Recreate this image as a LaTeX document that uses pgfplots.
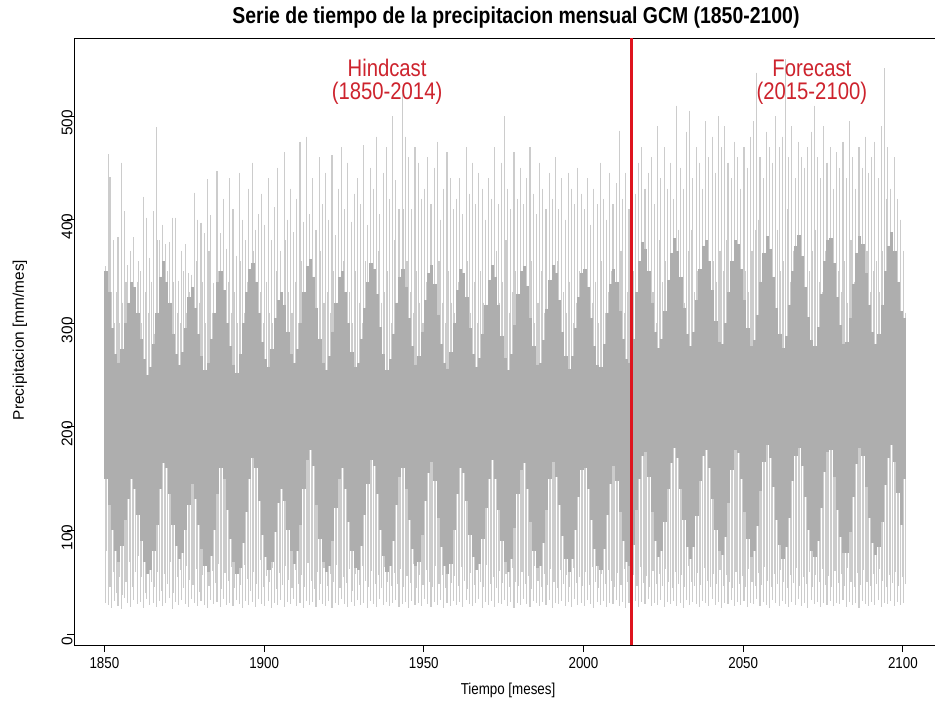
\documentclass[border=0pt]{standalone}
\usepackage{fontspec}
\setmainfont{Liberation Sans}
\newfontfamily\narrow[FakeStretch=0.845]{Liberation Sans}
\usepackage{pgfplots}
\usepackage{pgfplotstable}
\pgfplotsset{compat=1.18}

\definecolor{coregray}{RGB}{174,174,174}
\definecolor{linegray}{RGB}{204,204,204}
\definecolor{rline}{RGB}{222,20,30}
\definecolor{rtext}{RGB}{205,35,45}

% per year: two monthly spikes (lA-hA, lB-hB) and the dense band (cL-cH)
\pgfplotstableread{
yr lA hA lB hB cL cH
1850 30 355 80 300 150 350
1851 28 463 45 441 125 330
1852 25 330 60 380 100 295
1853 32 300 40 330 80 270
1854 27 383 55 300 70 262
1855 24 455 38 320 85 275
1856 35 408 50 340 110 300
1857 30 356 70 290 130 320
1858 26 370 45 330 150 340
1859 33 383 60 310 140 335
1860 29 340 75 360 115 310
1861 31 350 55 300 90 285
1862 25 422 40 330 70 265
1863 34 402 65 310 58 250
1864 28 363 50 340 62 258
1865 30 408 45 290 80 280
1866 26 489 60 380 105 310
1867 32 380 42 330 140 345
1868 27 395 58 300 165 360
1869 30 376 48 350 160 340
1870 35 378 70 320 135 320
1871 24 402 40 340 105 290
1872 31 402 55 310 85 270
1873 28 341 62 300 72 260
1874 33 370 44 350 78 272
1875 29 376 66 310 100 295
1876 26 348 52 330 125 325
1877 34 347 47 290 145 335
1878 30 426 63 360 130 315
1879 27 400 41 320 105 290
1880 32 397 57 340 82 268
1881 28 387 72 300 66 255
1882 25 439 46 370 60 262
1883 33 404 61 310 75 285
1884 29 339 49 300 100 310
1885 31 447 68 350 135 340
1886 26 387 43 320 160 350
1887 34 420 59 300 150 332
1888 28 372 51 340 120 300
1889 30 440 65 310 92 278
1890 27 410 44 330 70 260
1891 33 365 58 300 58 252
1892 29 445 47 360 64 270
1893 25 400 67 310 88 300
1894 32 380 53 340 118 330
1895 28 430 42 300 150 352
1896 31 455 60 370 170 358
1897 26 390 48 320 160 340
1898 34 405 71 330 128 310
1899 29 425 45 300 96 282
1900 27 395 56 340 74 265
1901 32 440 50 310 62 258
1902 25 380 64 300 70 275
1903 30 412 43 350 98 305
1904 28 450 59 320 126 322
1905 33 370 47 300 140 330
1906 26 465 66 380 128 318
1907 31 400 52 330 100 292
1908 29 430 44 310 80 270
1909 34 388 62 340 68 262
1910 27 420 48 300 80 275
1911 30 475 57 360 105 300
1912 25 398 45 320 140 330
1913 32 480 69 350 168 355
1914 28 405 51 310 178 362
1915 31 440 43 340 162 345
1916 26 390 60 300 125 315
1917 33 460 48 370 92 285
1918 29 415 64 320 70 262
1919 27 445 46 330 60 255
1920 32 400 58 310 66 268
1921 25 462 50 350 90 292
1922 30 385 67 300 122 320
1923 28 430 44 340 150 345
1924 34 470 55 360 160 350
1925 29 410 49 310 140 330
1926 26 455 63 330 108 300
1927 31 398 42 300 80 272
1928 27 425 58 350 64 258
1929 33 440 47 320 62 262
1930 28 415 66 300 85 285
1931 30 472 51 360 115 315
1932 25 395 45 310 145 340
1933 32 450 61 340 168 358
1934 29 430 48 300 162 352
1935 26 480 57 370 135 328
1936 34 405 44 320 100 296
1937 28 445 65 330 75 270
1938 31 470 50 350 60 255
1939 27 420 46 300 66 265
1940 30 500 59 380 90 290
1941 33 438 48 320 125 320
1942 26 410 63 340 152 345
1943 29 525 45 410 160 352
1944 31 480 56 360 140 335
1945 25 460 49 330 110 305
1946 32 410 68 310 82 278
1947 28 470 44 350 66 260
1948 30 455 57 320 70 268
1949 27 420 47 300 96 292
1950 34 430 62 340 128 322
1951 29 460 50 310 155 348
1952 26 415 45 330 166 356
1953 31 450 66 300 148 338
1954 28 475 48 360 112 308
1955 33 400 57 320 84 280
1956 25 430 44 300 66 262
1957 30 465 63 350 58 256
1958 27 440 49 320 68 272
1959 32 410 56 310 100 300
1960 28 420 46 340 135 332
1961 31 440 65 300 160 352
1962 26 405 51 330 155 348
1963 33 470 43 360 128 325
1964 29 425 59 310 96 295
1965 27 455 47 340 74 270
1966 30 415 62 300 62 258
1967 34 445 50 350 68 266
1968 25 430 45 320 92 290
1969 31 400 67 310 122 318
1970 28 440 48 330 150 342
1971 32 420 55 300 168 356
1972 26 470 44 370 150 345
1973 30 415 61 320 120 318
1974 29 455 49 340 90 288
1975 33 500 58 380 70 266
1976 27 430 45 310 60 255
1977 31 410 64 330 72 270
1978 25 465 50 350 102 298
1979 30 420 46 300 135 328
1980 28 450 60 340 158 350
1981 34 415 48 310 165 355
1982 29 440 56 330 140 336
1983 26 470 43 360 108 305
1984 32 425 66 300 80 278
1985 30 405 51 320 64 260
1986 27 455 45 350 66 262
1987 31 430 58 310 88 284
1988 28 410 47 300 120 314
1989 33 445 63 340 150 342
1990 25 420 50 320 166 356
1991 30 460 44 360 152 348
1992 29 410 62 300 125 322
1993 32 440 48 330 95 292
1994 27 400 57 310 72 268
1995 31 445 45 340 60 256
1996 26 430 64 300 72 268
1997 34 415 49 320 100 295
1998 28 450 55 350 132 325
1999 30 425 46 310 158 348
2000 27 410 60 330 160 352
2001 33 440 47 300 140 335
2002 29 395 65 320 110 305
2003 25 430 50 340 82 278
2004 31 415 44 300 66 260
2005 28 455 58 360 62 258
2006 32 420 48 310 82 280
2007 26 400 62 330 115 310
2008 30 445 51 350 145 338
2009 29 415 45 300 162 352
2010 33 435 59 340 148 340
2011 27 486 47 370 118 312
2012 31 420 63 310 90 285
2013 25 445 50 330 70 265
2014 30 410 44 300 66 262
2015 28 440 57 350 86 285
2016 32 425 46 320 120 330
2017 26 455 65 360 150 360
2018 31 470 49 340 172 378
2019 29 430 56 310 176 372
2020 34 445 45 350 152 350
2021 27 460 61 330 118 320
2022 30 415 48 300 90 292
2023 28 490 58 380 74 276
2024 33 440 46 340 80 285
2025 26 470 63 360 108 312
2026 31 430 50 320 140 342
2027 29 455 44 350 165 368
2028 32 420 60 310 180 382
2029 27 510 48 390 170 370
2030 30 450 57 340 140 345
2031 25 430 45 320 110 315
2032 33 485 66 370 84 290
2033 28 505 50 390 72 278
2034 31 440 46 330 84 292
2035 29 470 59 350 114 322
2036 26 455 47 320 148 352
2037 32 430 64 340 172 375
2038 30 495 51 380 178 380
2039 27 460 45 330 160 360
2040 34 480 58 360 130 332
2041 28 445 48 340 100 302
2042 31 500 62 370 80 282
2043 25 470 46 350 76 280
2044 30 490 57 380 94 300
2045 29 455 50 330 126 330
2046 33 440 44 320 158 360
2047 27 475 60 360 178 380
2048 31 460 48 340 175 376
2049 28 430 56 310 150 352
2050 32 470 45 350 118 322
2051 26 450 63 330 92 295
2052 30 480 50 370 74 278
2053 29 495 46 390 80 284
2054 34 542 59 400 104 308
2055 27 460 47 340 138 340
2056 31 440 65 330 166 368
2057 28 485 51 380 182 384
2058 25 470 45 350 170 372
2059 33 455 58 330 142 345
2060 30 500 48 390 110 315
2061 27 470 62 350 86 290
2062 32 480 50 360 72 276
2063 29 555 44 410 84 288
2064 26 460 57 340 112 318
2065 31 490 49 370 148 350
2066 28 440 64 330 172 375
2067 34 475 46 360 180 385
2068 27 460 55 340 162 365
2069 30 450 48 320 132 335
2070 25 470 60 350 100 306
2071 33 485 45 370 80 284
2072 29 510 57 390 74 278
2073 31 460 50 340 90 296
2074 26 440 63 330 122 328
2075 30 490 47 370 156 360
2076 28 455 56 340 176 380
2077 32 470 45 360 178 382
2078 27 430 61 320 152 358
2079 30 465 49 350 120 325
2080 29 450 58 330 94 298
2081 33 475 46 360 78 280
2082 26 440 64 320 78 282
2083 31 495 50 380 98 305
2084 28 460 45 340 132 338
2085 30 430 59 330 164 368
2086 25 470 47 350 180 384
2087 32 450 62 340 172 376
2088 29 480 50 370 142 348
2089 27 445 46 330 112 318
2090 31 460 58 350 88 292
2091 28 475 48 360 76 280
2092 33 440 63 330 84 290
2093 26 490 51 370 108 318
2094 30 546 45 420 144 350
2095 29 470 57 350 170 375
2096 32 430 49 330 182 388
2097 27 460 60 350 166 370
2098 31 420 46 320 136 340
2099 28 400 55 300 105 312
2100 30 370 48 310 150 305
}\precip

\begin{document}
\begin{tikzpicture}
% page = 935x709 px at 0.5pt per px, axis box lower left at (0,0)
\useasboundingbox (-37pt,-32pt) rectangle (430.5pt,322.5pt);
\begin{axis}[
    scale only axis,
    width=431pt, height=303.5pt,
    xmin=1840.48, xmax=2110.37,
    ymin=-10.6, ymax=575.3,
    xtick={1850,1900,...,2100},
    ytick={0,100,...,500},
    tick align=outside,
    tick pos=left,
    major tick length=3.5pt,
    tick style={black, line width=0.45pt},
    axis line style={line width=0.45pt},
    /pgf/number format/1000 sep={},
    /pgf/number format/assume math mode=true,
    xticklabel style={font=\narrow\fontsize{7.9}{8}\selectfont, anchor=center, yshift=-5.5pt},
    yticklabel style={font=\fontsize{7.7}{8}\selectfont, rotate=90, anchor=center, xshift=-3.5pt},
    xlabel={Tiempo [meses]},
    ylabel={Precipitacion [mm/mes]},
    xlabel style={font=\narrow\fontsize{7.9}{9}\selectfont, at={(axis description cs:0.5035,-0.0741)}, anchor=center},
    ylabel style={font=\fontsize{7.7}{9}\selectfont, at={(axis description cs:-0.0628,0.5025)}, anchor=center, rotate=0},
    clip=true,
]
\addplot[linegray, only marks, mark=*, mark size=0pt, mark options={draw=none, fill=none}, forget plot,
    error bars/.cd, y dir=minus, y explicit, error mark=none,
    error bar style={linegray, line width=0.55pt}]
    table[x expr=\thisrow{yr}+0.25, y=hA, y error minus expr=\thisrow{hA}-\thisrow{lA}] {\precip};
\addplot[linegray, only marks, mark=*, mark size=0pt, mark options={draw=none, fill=none}, forget plot,
    error bars/.cd, y dir=minus, y explicit, error mark=none,
    error bar style={linegray, line width=0.55pt}]
    table[x expr=\thisrow{yr}+0.75, y=hB, y error minus expr=\thisrow{hB}-\thisrow{lB}] {\precip};
\addplot[coregray, only marks, mark=*, mark size=0pt, mark options={draw=none, fill=none}, forget plot,
    error bars/.cd, y dir=minus, y explicit, error mark=none,
    error bar style={coregray, line width=1.62pt}]
    table[x expr=\thisrow{yr}+0.5, y=cH, y error minus expr=\thisrow{cH}-\thisrow{cL}] {\precip};
\addplot[rline, line width=1.5pt] coordinates {(2015,-10.6) (2015,575.3)};
\node[rtext, font=\narrow\fontsize{12}{11.5}\selectfont, align=center] at (axis cs:1938.5,533) {Hindcast\\(1850-2014)};
\node[rtext, font=\narrow\fontsize{12}{11.5}\selectfont, align=center] at (axis cs:2071.5,533) {Forecast\\(2015-2100)};
\end{axis}
\node[font=\narrow\bfseries\fontsize{11.5}{12}\selectfont] at (221pt,313.5pt) {Serie de tiempo de la precipitacion mensual GCM (1850-2100)};
\end{tikzpicture}
\end{document}
